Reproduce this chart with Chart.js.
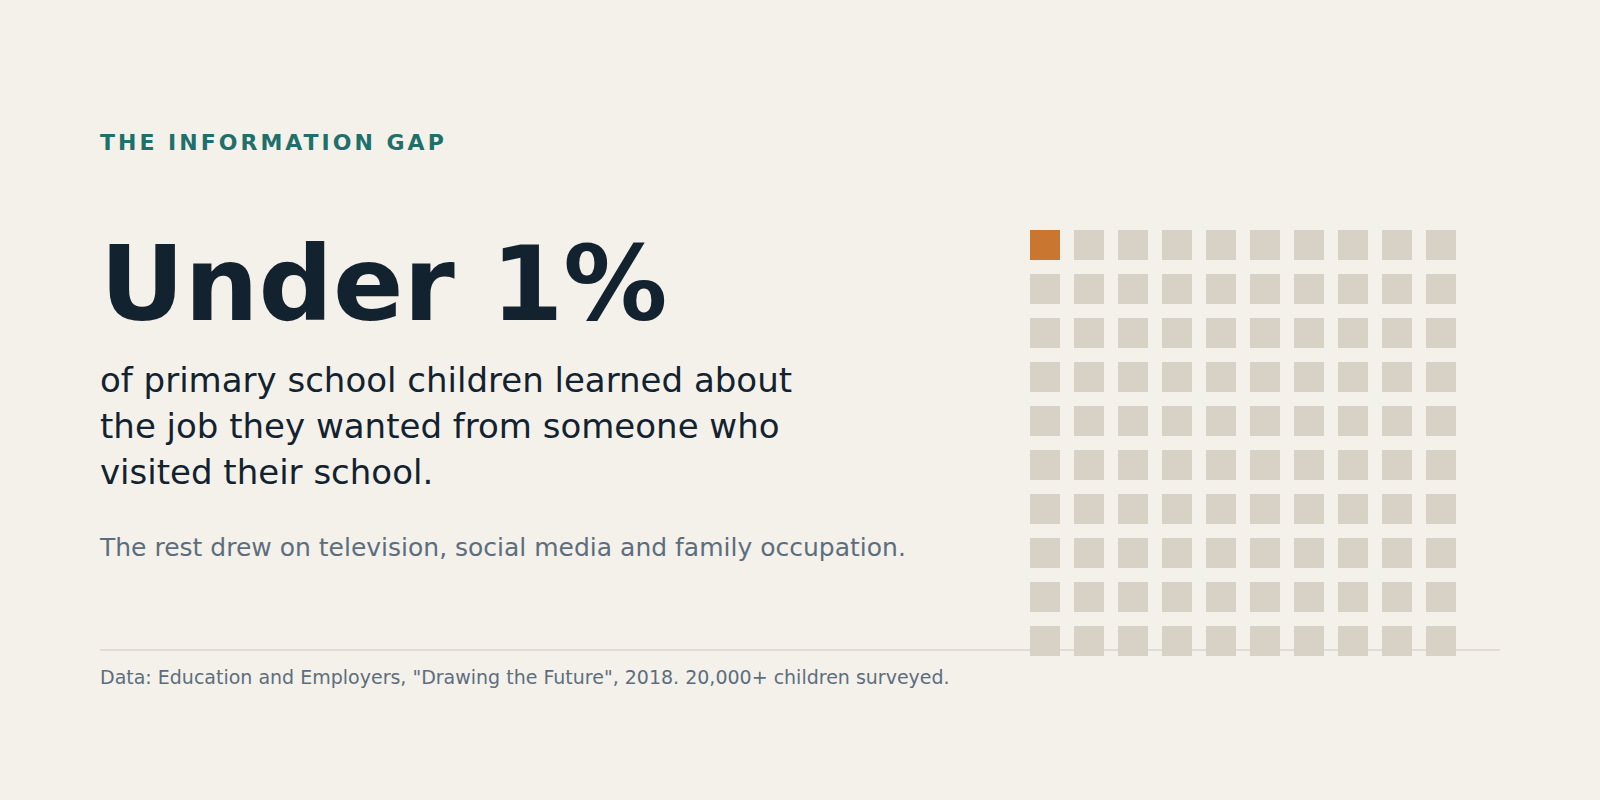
<!DOCTYPE html>
<html>
<head>
<meta charset="utf-8">
<script src="https://cdn.jsdelivr.net/npm/chart.js@4.4.1/dist/chart.umd.min.js"></script>
<style>
  html, body { margin: 0; padding: 0; }
  body { width: 1600px; height: 800px; background: #f4f1ea; position: relative; overflow: hidden; font-family: "DejaVu Sans", sans-serif; }
  .t { position: absolute; left: 100px; white-space: nowrap; }
  #kicker { top: 132px; font-size: 22px; line-height: 22px; font-weight: bold; letter-spacing: 3px; color: #1f6f6a; }
  #big { top: 232px; font-size: 104px; line-height: 104px; font-weight: bold; color: #13222f; }
  #body { top: 357px; font-size: 34px; line-height: 46px; color: #13222f; }
  #sub { top: 535px; font-size: 25px; line-height: 25px; color: #5c6e7e; }
  #rule { position: absolute; left: 100px; top: 649px; width: 1400px; height: 2px; background: #e1ddd4; }
  #foot { top: 668px; font-size: 19px; line-height: 19px; color: #5c6e7e; }
  #wrap { position: absolute; left: 1023px; top: 223px; width: 440px; height: 440px; }
</style>
</head>
<body>
<div class="t" id="kicker">THE INFORMATION GAP</div>
<div class="t" id="big">Under 1%</div>
<div class="t" id="body">of primary school children learned about<br>the job they wanted from someone who<br>visited their school.</div>
<div class="t" id="sub">The rest drew on television, social media and family occupation.</div>
<div id="rule"></div>
<div class="t" id="foot">Data: Education and Employers, "Drawing the Future", 2018. 20,000+ children surveyed.</div>
<div id="wrap"><canvas id="c"></canvas></div>
<script>
// Data
const segments = ["Learned from a school visitor", "Other sources"];
const counts = [1, 99];           // out of 100 children
const segmentColors = ["#c87630", "#d8d1c5"];
const gridColumns = 10;
const gridRows = 10;

// Build waffle cells (row-major, top-left first)
const datasets = [];
let cell = 0;
segments.forEach((name, s) => {
  const pts = [];
  for (let k = 0; k < counts[s]; k++, cell++) {
    pts.push({ x: cell % gridColumns, y: Math.floor(cell / gridColumns) });
  }
  datasets.push({
    label: name,
    data: pts,
    pointStyle: 'rect',
    pointRadius: 30 / Math.SQRT2,
    pointHoverRadius: 30 / Math.SQRT2,
    pointBorderWidth: 0,
    pointHoverBorderWidth: 0,
    backgroundColor: segmentColors[s],
    borderColor: segmentColors[s],
    clip: false
  });
});

new Chart(document.getElementById('c'), {
  type: 'scatter',
  data: { datasets },
  options: {
    responsive: true,
    maintainAspectRatio: false,
    animation: false,
    events: [],
    layout: { padding: 0, autoPadding: false },
    plugins: { legend: { display: false }, tooltip: { enabled: false } },
    scales: {
      x: { type: 'linear', min: -0.5, max: gridColumns - 0.5, display: false },
      y: { type: 'linear', min: -0.5, max: gridRows - 0.5, reverse: true, display: false }
    }
  }
});
</script>
</body>
</html>
